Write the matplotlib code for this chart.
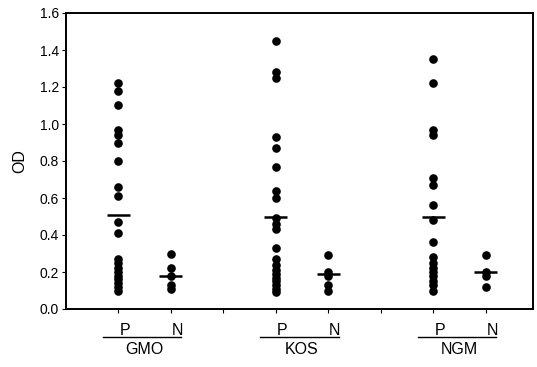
import matplotlib
matplotlib.use("Agg")
import matplotlib.pyplot as plt
from matplotlib.transforms import blended_transform_factory

plt.rcParams['font.family'] = ['Liberation Sans', 'DejaVu Sans']

groups = ["GMO", "KOS", "NGM"]
subgroups = ["P", "N"]
x_pos = {"GMO": (1, 2), "KOS": (4, 5), "NGM": (7, 8)}

gmo_p = [1.22, 1.18, 1.10, 0.97, 0.94, 0.90, 0.80, 0.66, 0.61, 0.47, 0.41,
         0.27, 0.25, 0.22, 0.20, 0.18, 0.16, 0.14, 0.12, 0.10]
gmo_n = [0.30, 0.22, 0.18, 0.13, 0.11]
kos_p = [1.45, 1.28, 1.25, 0.93, 0.87, 0.77, 0.64, 0.60, 0.49, 0.46, 0.43,
         0.33, 0.27, 0.24, 0.21, 0.19, 0.17, 0.15, 0.13, 0.11, 0.09]
kos_n = [0.29, 0.20, 0.18, 0.13, 0.10]
ngm_p = [1.35, 1.22, 0.97, 0.94, 0.71, 0.67, 0.56, 0.48, 0.36,
         0.28, 0.25, 0.22, 0.20, 0.18, 0.15, 0.13, 0.10]
ngm_n = [0.29, 0.20, 0.18, 0.12]

mean_p = [0.51, 0.50, 0.50]
mean_n = [0.18, 0.19, 0.20]

series = {"GMO": (gmo_p, gmo_n), "KOS": (kos_p, kos_n), "NGM": (ngm_p, ngm_n)}

W, H = 537, 367
fig = plt.figure(figsize=(W / 100, H / 100), dpi=100)
L, R, T, B = 66, 533, 13, 309
ax = fig.add_axes([L / W, 1 - B / H, (R - L) / W, (B - T) / H])

for gi, g in enumerate(groups):
    xp, xn = x_pos[g]
    p_vals, n_vals = series[g]
    ax.plot([xp] * len(p_vals), p_vals, 'o', color='black', markersize=6.2,
            markeredgewidth=0, clip_on=False)
    ax.plot([xn] * len(n_vals), n_vals, 'o', color='black', markersize=6.2,
            markeredgewidth=0, clip_on=False)
    ax.hlines(mean_p[gi], xp - 0.22, xp + 0.22, color='black', linewidth=1.8)
    ax.hlines(mean_n[gi], xn - 0.22, xn + 0.22, color='black', linewidth=1.8)

ax.set_xlim(0, 8.9)
ax.set_ylim(0, 1.6)
ax.set_yticks([0.0, 0.2, 0.4, 0.6, 0.8, 1.0, 1.2, 1.4, 1.6])
ax.set_yticklabels([f"{v:.1f}" for v in ax.get_yticks()], fontsize=10)
ax.set_xticks([1, 2, 3, 4, 5, 6, 7, 8])
ax.set_xticklabels([])
ax.tick_params(axis='both', direction='out', length=3, width=0.8, colors='black')
ax.tick_params(axis='y', pad=2)
for s in ax.spines.values():
    s.set_linewidth(1.4)
    s.set_color('black')
ax.set_ylabel("OD", fontsize=11.5, labelpad=9)

tr = blended_transform_factory(ax.transData, fig.transFigure)
for g in groups:
    xp, xn = x_pos[g]
    ax.text(xp + 0.12, 1 - 335 / H, subgroups[0], transform=tr, ha='center',
            va='baseline', fontsize=11.5)
    ax.text(xn + 0.12, 1 - 335 / H, subgroups[1], transform=tr, ha='center',
            va='baseline', fontsize=11.5)
    ax.plot([xp - 0.3, xn + 0.2], [1 - 336.5 / H] * 2, transform=tr, color='black',
            linewidth=1.0, clip_on=False)
    ax.text((xp + xn) / 2, 1 - 349 / H, g, transform=tr, ha='center',
            va='center', fontsize=11.5)

fig.savefig("out.png", dpi=100)
